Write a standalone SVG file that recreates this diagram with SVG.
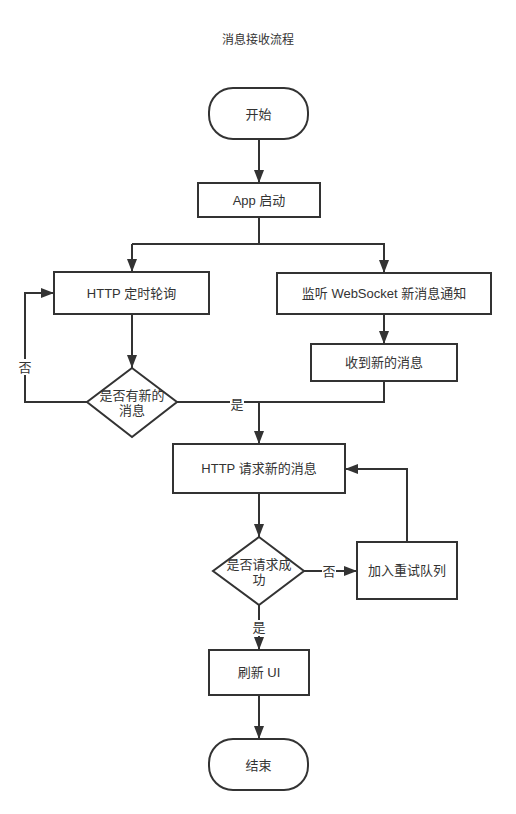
<svg xmlns="http://www.w3.org/2000/svg" width="516" height="814" viewBox="0 0 516 814">
<defs>
<marker id="arr" viewBox="0 0 13 10" refX="13" refY="5" markerWidth="6.5" markerHeight="5" orient="auto" markerUnits="strokeWidth">
<path d="M0,0 L13,5 L0,10 Z" fill="#333"/>
</marker>
</defs>
<style>
.shape{fill:#fff;stroke:#333;stroke-width:2}
.t{font-family:"Liberation Sans","Noto Sans CJK SC",sans-serif;font-size:13px;fill:#333;text-anchor:middle;dominant-baseline:central}
.edge{fill:none;stroke:#333;stroke-width:2;marker-end:url(#arr)}
.line{fill:none;stroke:#333;stroke-width:2}
.lbl{fill:#fff}
</style>
<rect width="516" height="814" fill="#fff"/>
<text class="t" x="258" y="40" style="font-size:12px">消息接收流程</text>
<g id="connectors">
<path class="edge" d="M259,139 V183"/>
<path class="line" d="M259,217 V244 H132"/>
<path class="edge" d="M132,244 V272"/>
<path class="edge" d="M259,244 H384 V273"/>
<path class="edge" d="M132,314 V368"/>
<path class="edge" d="M87,402 H25 V293 H54"/>
<path class="edge" d="M384,314 V344"/>
<path class="line" d="M177,402 H259"/>
<path class="line" d="M384,381 V402 H259"/>
<path class="edge" d="M259,402 V444"/>
<path class="edge" d="M259,493 V537"/>
<path class="edge" d="M304,571 H357"/>
<path class="edge" d="M407,542 V469 H345"/>
<path class="edge" d="M259,605 V650"/>
<path class="edge" d="M259,695 V739"/>
<rect class="lbl" x="18" y="359" width="14" height="16"/>
<text class="t" x="25" y="367">否</text>
<rect class="lbl" x="230" y="397" width="14" height="16"/>
<text class="t" x="237" y="404">是</text>
<rect class="lbl" x="322" y="564" width="14" height="16"/>
<text class="t" x="329" y="571">否</text>
<rect class="lbl" x="252" y="620" width="14" height="16"/>
<text class="t" x="259" y="627">是</text>
</g>
<g id="start"><rect class="shape" x="209" y="88" width="99" height="51" rx="24" ry="24"/><text class="t" x="258.5" y="114">开始</text></g>
<g id="appStart"><rect class="shape" x="198" y="183" width="122" height="34"/><text class="t" x="259" y="200">App 启动</text></g>
<g id="httpPoll"><rect class="shape" x="54" y="272" width="155" height="42"/><text class="t" x="131.5" y="293">HTTP 定时轮询</text></g>
<g id="wsListen"><rect class="shape" x="277" y="273" width="214" height="41"/><text class="t" x="384" y="293.5">监听 WebSocket 新消息通知</text></g>
<g id="recvMsg"><rect class="shape" x="311" y="344" width="146" height="37"/><text class="t" x="384" y="362.5">收到新的消息</text></g>
<g id="hasNew"><path class="shape" d="M132,368 L177,402 L132,437 L87,402 Z"/><text class="t" x="132" y="395">是否有新的</text><text class="t" x="132" y="410">消息</text></g>
<g id="httpReq"><rect class="shape" x="173" y="444" width="172" height="49"/><text class="t" x="259" y="468.5">HTTP 请求新的消息</text></g>
<g id="reqOk"><path class="shape" d="M259,537 L304,571 L259,605 L213,571 Z"/><text class="t" x="259" y="564">是否请求成</text><text class="t" x="259" y="579">功</text></g>
<g id="retry"><rect class="shape" x="357" y="542" width="100" height="57"/><text class="t" x="407" y="570.5">加入重试队列</text></g>
<g id="refreshUI"><rect class="shape" x="209" y="650" width="100" height="45"/><text class="t" x="259" y="672.5">刷新 UI</text></g>
<g id="end"><rect class="shape" x="209" y="739" width="99" height="51" rx="24" ry="24"/><text class="t" x="258.5" y="765">结束</text></g>
</svg>
